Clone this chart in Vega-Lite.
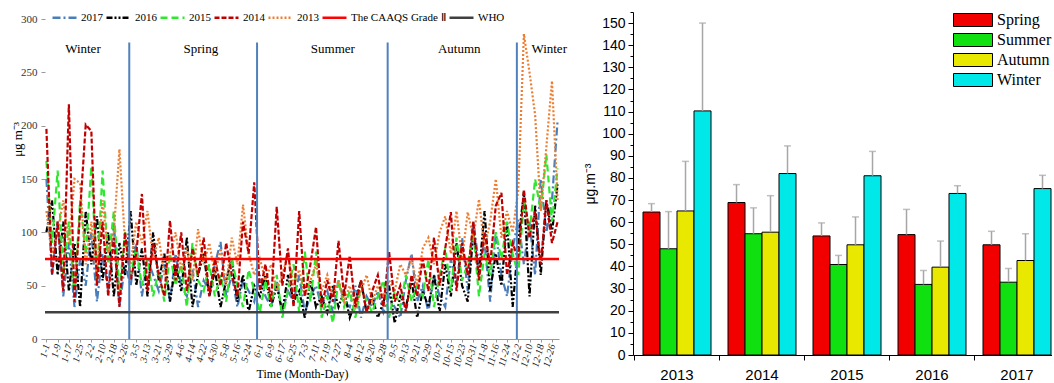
{
"$schema":"https://vega.github.io/schema/vega-lite/v6.json",
"background":"white",
"padding":{"left":11,"top":10,"right":0,"bottom":0},
"config":{"view":{"stroke":null},"axis":{"grid":false,"labelOverlap":false}},
"spacing":16,
"resolve":{"scale":{"stroke":"independent","strokeDash":"independent","fill":"independent"},"legend":{"stroke":"independent","strokeDash":"independent","fill":"independent"}},
"hconcat":[
{
"width":514,"height":327,
"layer":[
{"data":{"values":[
{"d":1,"s":"2017","v":150},{"d":5,"s":"2017","v":60},{"d":9,"s":"2017","v":110},{"d":13,"s":"2017","v":40},{"d":17,"s":"2017","v":90},{"d":21,"s":"2017","v":30},{"d":25,"s":"2017","v":75},{"d":29,"s":"2017","v":50},{"d":33,"s":"2017","v":100},{"d":37,"s":"2017","v":35},
{"d":41,"s":"2017","v":80},{"d":45,"s":"2017","v":45},{"d":49,"s":"2017","v":110},{"d":53,"s":"2017","v":30},{"d":57,"s":"2017","v":70},{"d":61,"s":"2017","v":50},{"d":65,"s":"2017","v":90},{"d":69,"s":"2017","v":40},{"d":73,"s":"2017","v":75},{"d":77,"s":"2017","v":60},
{"d":81,"s":"2017","v":45},{"d":85,"s":"2017","v":70},{"d":89,"s":"2017","v":35},{"d":93,"s":"2017","v":80},{"d":97,"s":"2017","v":50},{"d":101,"s":"2017","v":40},{"d":105,"s":"2017","v":65},{"d":109,"s":"2017","v":30},{"d":113,"s":"2017","v":55},{"d":117,"s":"2017","v":45},
{"d":121,"s":"2017","v":70},{"d":125,"s":"2017","v":91},{"d":129,"s":"2017","v":40},{"d":133,"s":"2017","v":60},{"d":137,"s":"2017","v":30},{"d":141,"s":"2017","v":55},{"d":145,"s":"2017","v":45},{"d":149,"s":"2017","v":35},{"d":153,"s":"2017","v":60},{"d":157,"s":"2017","v":40},
{"d":161,"s":"2017","v":30},{"d":165,"s":"2017","v":55},{"d":169,"s":"2017","v":25},{"d":173,"s":"2017","v":45},{"d":177,"s":"2017","v":35},{"d":181,"s":"2017","v":60},{"d":185,"s":"2017","v":25},{"d":189,"s":"2017","v":40},{"d":193,"s":"2017","v":50},{"d":197,"s":"2017","v":30},
{"d":201,"s":"2017","v":45},{"d":205,"s":"2017","v":25},{"d":209,"s":"2017","v":55},{"d":213,"s":"2017","v":35},{"d":217,"s":"2017","v":30},{"d":221,"s":"2017","v":50},{"d":225,"s":"2017","v":20},{"d":229,"s":"2017","v":40},{"d":233,"s":"2017","v":30},{"d":237,"s":"2017","v":45},
{"d":241,"s":"2017","v":25},{"d":245,"s":"2017","v":40},{"d":249,"s":"2017","v":30},{"d":253,"s":"2017","v":20},{"d":257,"s":"2017","v":55},{"d":261,"s":"2017","v":80},{"d":265,"s":"2017","v":35},{"d":269,"s":"2017","v":50},{"d":273,"s":"2017","v":25},{"d":277,"s":"2017","v":60},
{"d":281,"s":"2017","v":40},{"d":285,"s":"2017","v":30},{"d":289,"s":"2017","v":75},{"d":293,"s":"2017","v":50},{"d":297,"s":"2017","v":95},{"d":301,"s":"2017","v":45},{"d":305,"s":"2017","v":110},{"d":309,"s":"2017","v":70},{"d":313,"s":"2017","v":90},{"d":317,"s":"2017","v":35},
{"d":321,"s":"2017","v":100},{"d":325,"s":"2017","v":60},{"d":329,"s":"2017","v":40},{"d":333,"s":"2017","v":85},{"d":337,"s":"2017","v":112},{"d":341,"s":"2017","v":70},{"d":345,"s":"2017","v":110},{"d":349,"s":"2017","v":60},{"d":353,"s":"2017","v":150},{"d":357,"s":"2017","v":100},
{"d":361,"s":"2017","v":130},{"d":365,"s":"2017","v":205},
{"d":1,"s":"2016","v":100},{"d":5,"s":"2016","v":130},{"d":9,"s":"2016","v":60},{"d":13,"s":"2016","v":110},{"d":17,"s":"2016","v":45},{"d":21,"s":"2016","v":90},{"d":25,"s":"2016","v":30},{"d":29,"s":"2016","v":120},{"d":33,"s":"2016","v":70},{"d":37,"s":"2016","v":115},
{"d":41,"s":"2016","v":55},{"d":45,"s":"2016","v":100},{"d":49,"s":"2016","v":40},{"d":53,"s":"2016","v":90},{"d":57,"s":"2016","v":60},{"d":61,"s":"2016","v":120},{"d":65,"s":"2016","v":50},{"d":69,"s":"2016","v":85},{"d":73,"s":"2016","v":40},{"d":77,"s":"2016","v":100},
{"d":81,"s":"2016","v":55},{"d":85,"s":"2016","v":80},{"d":89,"s":"2016","v":35},{"d":93,"s":"2016","v":70},{"d":97,"s":"2016","v":45},{"d":101,"s":"2016","v":95},{"d":105,"s":"2016","v":30},{"d":109,"s":"2016","v":60},{"d":113,"s":"2016","v":80},{"d":117,"s":"2016","v":40},
{"d":121,"s":"2016","v":65},{"d":125,"s":"2016","v":30},{"d":129,"s":"2016","v":55},{"d":133,"s":"2016","v":75},{"d":137,"s":"2016","v":35},{"d":141,"s":"2016","v":60},{"d":145,"s":"2016","v":25},{"d":149,"s":"2016","v":50},{"d":153,"s":"2016","v":40},{"d":157,"s":"2016","v":60},
{"d":161,"s":"2016","v":30},{"d":165,"s":"2016","v":50},{"d":169,"s":"2016","v":25},{"d":173,"s":"2016","v":60},{"d":177,"s":"2016","v":35},{"d":181,"s":"2016","v":45},{"d":185,"s":"2016","v":20},{"d":189,"s":"2016","v":55},{"d":193,"s":"2016","v":30},{"d":197,"s":"2016","v":40},
{"d":201,"s":"2016","v":25},{"d":205,"s":"2016","v":50},{"d":209,"s":"2016","v":30},{"d":213,"s":"2016","v":45},{"d":217,"s":"2016","v":20},{"d":221,"s":"2016","v":35},{"d":225,"s":"2016","v":55},{"d":229,"s":"2016","v":25},{"d":233,"s":"2016","v":40},{"d":237,"s":"2016","v":20},
{"d":241,"s":"2016","v":35},{"d":245,"s":"2016","v":50},{"d":249,"s":"2016","v":15},{"d":253,"s":"2016","v":40},{"d":257,"s":"2016","v":30},{"d":261,"s":"2016","v":55},{"d":265,"s":"2016","v":20},{"d":269,"s":"2016","v":45},{"d":273,"s":"2016","v":30},{"d":277,"s":"2016","v":60},
{"d":281,"s":"2016","v":25},{"d":285,"s":"2016","v":70},{"d":289,"s":"2016","v":40},{"d":293,"s":"2016","v":90},{"d":297,"s":"2016","v":50},{"d":301,"s":"2016","v":35},{"d":305,"s":"2016","v":100},{"d":309,"s":"2016","v":60},{"d":313,"s":"2016","v":120},{"d":317,"s":"2016","v":45},
{"d":321,"s":"2016","v":80},{"d":325,"s":"2016","v":50},{"d":329,"s":"2016","v":110},{"d":333,"s":"2016","v":30},{"d":337,"s":"2016","v":90},{"d":341,"s":"2016","v":138},{"d":345,"s":"2016","v":40},{"d":349,"s":"2016","v":125},{"d":353,"s":"2016","v":60},{"d":357,"s":"2016","v":130},
{"d":361,"s":"2016","v":100},{"d":365,"s":"2016","v":145},
{"d":1,"s":"2015","v":167},{"d":5,"s":"2015","v":90},{"d":9,"s":"2015","v":158},{"d":13,"s":"2015","v":60},{"d":17,"s":"2015","v":110},{"d":21,"s":"2015","v":40},{"d":25,"s":"2015","v":130},{"d":29,"s":"2015","v":80},{"d":33,"s":"2015","v":162},{"d":37,"s":"2015","v":55},
{"d":41,"s":"2015","v":158},{"d":45,"s":"2015","v":70},{"d":49,"s":"2015","v":120},{"d":53,"s":"2015","v":45},{"d":57,"s":"2015","v":100},{"d":61,"s":"2015","v":60},{"d":65,"s":"2015","v":85},{"d":69,"s":"2015","v":50},{"d":73,"s":"2015","v":75},{"d":77,"s":"2015","v":40},
{"d":81,"s":"2015","v":65},{"d":85,"s":"2015","v":35},{"d":89,"s":"2015","v":80},{"d":93,"s":"2015","v":50},{"d":97,"s":"2015","v":70},{"d":101,"s":"2015","v":30},{"d":105,"s":"2015","v":90},{"d":109,"s":"2015","v":55},{"d":113,"s":"2015","v":45},{"d":117,"s":"2015","v":70},
{"d":121,"s":"2015","v":40},{"d":125,"s":"2015","v":60},{"d":129,"s":"2015","v":35},{"d":133,"s":"2015","v":75},{"d":137,"s":"2015","v":50},{"d":141,"s":"2015","v":30},{"d":145,"s":"2015","v":65},{"d":149,"s":"2015","v":45},{"d":153,"s":"2015","v":25},{"d":157,"s":"2015","v":55},
{"d":161,"s":"2015","v":30},{"d":165,"s":"2015","v":60},{"d":169,"s":"2015","v":20},{"d":173,"s":"2015","v":45},{"d":177,"s":"2015","v":70},{"d":181,"s":"2015","v":25},{"d":185,"s":"2015","v":82},{"d":189,"s":"2015","v":35},{"d":193,"s":"2015","v":82},{"d":197,"s":"2015","v":20},
{"d":201,"s":"2015","v":40},{"d":205,"s":"2015","v":15},{"d":209,"s":"2015","v":55},{"d":213,"s":"2015","v":30},{"d":217,"s":"2015","v":45},{"d":221,"s":"2015","v":20},{"d":225,"s":"2015","v":50},{"d":229,"s":"2015","v":35},{"d":233,"s":"2015","v":25},{"d":237,"s":"2015","v":40},
{"d":241,"s":"2015","v":55},{"d":245,"s":"2015","v":20},{"d":249,"s":"2015","v":45},{"d":253,"s":"2015","v":30},{"d":257,"s":"2015","v":60},{"d":261,"s":"2015","v":35},{"d":265,"s":"2015","v":50},{"d":269,"s":"2015","v":40},{"d":273,"s":"2015","v":75},{"d":277,"s":"2015","v":30},
{"d":281,"s":"2015","v":60},{"d":285,"s":"2015","v":85},{"d":289,"s":"2015","v":45},{"d":293,"s":"2015","v":95},{"d":297,"s":"2015","v":55},{"d":301,"s":"2015","v":70},{"d":305,"s":"2015","v":100},{"d":309,"s":"2015","v":40},{"d":313,"s":"2015","v":80},{"d":317,"s":"2015","v":60},
{"d":321,"s":"2015","v":100},{"d":325,"s":"2015","v":75},{"d":329,"s":"2015","v":110},{"d":333,"s":"2015","v":80},{"d":337,"s":"2015","v":60},{"d":341,"s":"2015","v":130},{"d":345,"s":"2015","v":100},{"d":349,"s":"2015","v":150},{"d":353,"s":"2015","v":120},{"d":357,"s":"2015","v":173},
{"d":361,"s":"2015","v":110},{"d":365,"s":"2015","v":160},
{"d":1,"s":"2013","v":120},{"d":5,"s":"2013","v":80},{"d":9,"s":"2013","v":100},{"d":13,"s":"2013","v":130},{"d":17,"s":"2013","v":90},{"d":21,"s":"2013","v":150},{"d":25,"s":"2013","v":146},{"d":29,"s":"2013","v":70},{"d":33,"s":"2013","v":110},{"d":37,"s":"2013","v":60},
{"d":41,"s":"2013","v":130},{"d":45,"s":"2013","v":80},{"d":49,"s":"2013","v":100},{"d":53,"s":"2013","v":178},{"d":57,"s":"2013","v":90},{"d":61,"s":"2013","v":70},{"d":65,"s":"2013","v":110},{"d":69,"s":"2013","v":90},{"d":73,"s":"2013","v":120},{"d":77,"s":"2013","v":75},
{"d":81,"s":"2013","v":95},{"d":85,"s":"2013","v":60},{"d":89,"s":"2013","v":80},{"d":93,"s":"2013","v":100},{"d":97,"s":"2013","v":65},{"d":101,"s":"2013","v":85},{"d":105,"s":"2013","v":55},{"d":109,"s":"2013","v":103},{"d":113,"s":"2013","v":70},{"d":117,"s":"2013","v":90},
{"d":121,"s":"2013","v":60},{"d":125,"s":"2013","v":85},{"d":129,"s":"2013","v":50},{"d":133,"s":"2013","v":95},{"d":137,"s":"2013","v":70},{"d":141,"s":"2013","v":126},{"d":145,"s":"2013","v":80},{"d":149,"s":"2013","v":60},{"d":153,"s":"2013","v":75},{"d":157,"s":"2013","v":55},
{"d":161,"s":"2013","v":70},{"d":165,"s":"2013","v":45},{"d":169,"s":"2013","v":60},{"d":173,"s":"2013","v":80},{"d":177,"s":"2013","v":50},{"d":181,"s":"2013","v":65},{"d":185,"s":"2013","v":40},{"d":189,"s":"2013","v":55},{"d":193,"s":"2013","v":70},{"d":197,"s":"2013","v":45},
{"d":201,"s":"2013","v":60},{"d":205,"s":"2013","v":40},{"d":209,"s":"2013","v":55},{"d":213,"s":"2013","v":35},{"d":217,"s":"2013","v":50},{"d":221,"s":"2013","v":30},{"d":225,"s":"2013","v":45},{"d":229,"s":"2013","v":60},{"d":233,"s":"2013","v":35},{"d":237,"s":"2013","v":50},
{"d":241,"s":"2013","v":40},{"d":245,"s":"2013","v":55},{"d":249,"s":"2013","v":45},{"d":253,"s":"2013","v":70},{"d":257,"s":"2013","v":60},{"d":261,"s":"2013","v":75},{"d":265,"s":"2013","v":50},{"d":269,"s":"2013","v":85},{"d":273,"s":"2013","v":95},{"d":277,"s":"2013","v":70},
{"d":281,"s":"2013","v":100},{"d":285,"s":"2013","v":115},{"d":289,"s":"2013","v":80},{"d":293,"s":"2013","v":120},{"d":297,"s":"2013","v":75},{"d":301,"s":"2013","v":119},{"d":305,"s":"2013","v":95},{"d":309,"s":"2013","v":131},{"d":313,"s":"2013","v":85},{"d":317,"s":"2013","v":110},
{"d":321,"s":"2013","v":150},{"d":325,"s":"2013","v":95},{"d":329,"s":"2013","v":120},{"d":333,"s":"2013","v":100},{"d":337,"s":"2013","v":140},{"d":341,"s":"2013","v":286},{"d":345,"s":"2013","v":250},{"d":349,"s":"2013","v":210},{"d":353,"s":"2013","v":120},{"d":357,"s":"2013","v":180},
{"d":361,"s":"2013","v":242},{"d":365,"s":"2013","v":130},
{"d":1,"s":"2014","v":197},{"d":5,"s":"2014","v":60},{"d":9,"s":"2014","v":110},{"d":13,"s":"2014","v":45},{"d":17,"s":"2014","v":220},{"d":21,"s":"2014","v":35},{"d":25,"s":"2014","v":120},{"d":29,"s":"2014","v":201},{"d":33,"s":"2014","v":195},{"d":37,"s":"2014","v":50},
{"d":41,"s":"2014","v":110},{"d":45,"s":"2014","v":40},{"d":49,"s":"2014","v":95},{"d":53,"s":"2014","v":30},{"d":57,"s":"2014","v":100},{"d":61,"s":"2014","v":55},{"d":65,"s":"2014","v":80},{"d":69,"s":"2014","v":136},{"d":73,"s":"2014","v":45},{"d":77,"s":"2014","v":90},
{"d":81,"s":"2014","v":60},{"d":85,"s":"2014","v":40},{"d":89,"s":"2014","v":111},{"d":93,"s":"2014","v":55},{"d":97,"s":"2014","v":100},{"d":101,"s":"2014","v":45},{"d":105,"s":"2014","v":85},{"d":109,"s":"2014","v":60},{"d":113,"s":"2014","v":95},{"d":117,"s":"2014","v":40},
{"d":121,"s":"2014","v":75},{"d":125,"s":"2014","v":50},{"d":129,"s":"2014","v":90},{"d":133,"s":"2014","v":60},{"d":137,"s":"2014","v":40},{"d":141,"s":"2014","v":110},{"d":145,"s":"2014","v":80},{"d":149,"s":"2014","v":147},{"d":153,"s":"2014","v":45},{"d":157,"s":"2014","v":70},
{"d":161,"s":"2014","v":35},{"d":165,"s":"2014","v":124},{"d":169,"s":"2014","v":50},{"d":173,"s":"2014","v":85},{"d":177,"s":"2014","v":30},{"d":181,"s":"2014","v":120},{"d":185,"s":"2014","v":40},{"d":189,"s":"2014","v":70},{"d":193,"s":"2014","v":105},{"d":197,"s":"2014","v":30},
{"d":201,"s":"2014","v":55},{"d":205,"s":"2014","v":35},{"d":209,"s":"2014","v":92},{"d":213,"s":"2014","v":40},{"d":217,"s":"2014","v":78},{"d":221,"s":"2014","v":30},{"d":225,"s":"2014","v":55},{"d":229,"s":"2014","v":25},{"d":233,"s":"2014","v":45},{"d":237,"s":"2014","v":60},
{"d":241,"s":"2014","v":30},{"d":245,"s":"2014","v":82},{"d":249,"s":"2014","v":35},{"d":253,"s":"2014","v":50},{"d":257,"s":"2014","v":25},{"d":261,"s":"2014","v":60},{"d":265,"s":"2014","v":40},{"d":269,"s":"2014","v":75},{"d":273,"s":"2014","v":45},{"d":277,"s":"2014","v":95},
{"d":281,"s":"2014","v":50},{"d":285,"s":"2014","v":85},{"d":289,"s":"2014","v":119},{"d":293,"s":"2014","v":45},{"d":297,"s":"2014","v":90},{"d":301,"s":"2014","v":60},{"d":305,"s":"2014","v":110},{"d":309,"s":"2014","v":55},{"d":313,"s":"2014","v":100},{"d":317,"s":"2014","v":70},
{"d":321,"s":"2014","v":125},{"d":325,"s":"2014","v":137},{"d":329,"s":"2014","v":60},{"d":333,"s":"2014","v":90},{"d":337,"s":"2014","v":75},{"d":341,"s":"2014","v":140},{"d":345,"s":"2014","v":95},{"d":349,"s":"2014","v":120},{"d":353,"s":"2014","v":70},{"d":357,"s":"2014","v":130},
{"d":361,"s":"2014","v":90},{"d":365,"s":"2014","v":110}
]},
"mark":{"type":"line","strokeWidth":2.2,"strokeCap":"butt"},
"encoding":{
"x":{"field":"d","type":"quantitative","scale":{"domain":[0,366],"nice":false,"zero":false},
"axis":{"values":[1,9,17,25,33,41,49,57,65,73,81,89,97,105,113,121,129,137,145,153,161,169,177,185,193,201,209,217,225,233,241,249,257,265,273,281,289,297,305,313,321,329,337,345,353,361],"tickCount":200,
"labelExpr":"timeFormat(datetime(2016,0,datum.value),'%-m-%-d')","labelAngle":-75,"labelOverlap":false,
"labelFont":"Liberation Serif","labelFontSize":10,"labelFontStyle":"italic","labelColor":"#222",
"tickSize":3,"tickColor":"#999","domainColor":"#999","labelPadding":2,
"title":"Time (Month-Day)","titleFont":"Liberation Serif","titleFontSize":12,"titleFontWeight":"normal","titleColor":"#000","titlePadding":1}},
"y":{"field":"v","type":"quantitative","title":"μg m⁻³","scale":{"domain":[0,306.6],"nice":false},
"axis":{"values":[0,50,100,150,200,250,300],"tickCount":50,"domain":false,"labelFont":"Liberation Serif","labelFontSize":11,"labelColor":"#333",
"tickSize":4,"tickColor":"#999","labelPadding":4,
"titleFont":"Liberation Serif","titleFontSize":13,"titleFontWeight":"normal","titleColor":"#000","titlePadding":-4,"titleY":127}},
"stroke":{"field":"s","type":"nominal","scale":{"domain":["2017","2016","2015","2014","2013","The CAAQS Grade Ⅱ","WHO"],"range":["#4a7ebb","#000000","#2ee82e","#c00000","#ed7d31","#ff0000","#404040"]},
"legend":{"orient":"none","legendX":12,"legendY":-2,"direction":"horizontal","title":null,"labelFont":"Liberation Serif","labelFontSize":11,"labelColor":"#000","symbolType":"M-2,0H2","symbolSize":144,"symbolStrokeWidth":2.5,"labelOffset":9,"columnPadding":-2,"padding":0}},
"strokeDash":{"field":"s","type":"nominal","scale":{"domain":["2017","2016","2015","2014","2013","The CAAQS Grade Ⅱ","WHO"],"range":[[8,3,2,3],[6,2,2,2,2,2],[7,4],[5,2],[2,2],[1,0],[1,0]]},
"legend":{"orient":"none","legendX":12,"legendY":-2,"direction":"horizontal","title":null,"labelFont":"Liberation Serif","labelFontSize":11,"labelColor":"#000","symbolType":"M-2,0H2","symbolSize":144,"symbolStrokeWidth":2.5,"labelOffset":9,"columnPadding":-2,"padding":0}}
}},
{"mark":{"type":"rule","color":"#999","strokeWidth":1},
"encoding":{"x":{"datum":0,"type":"quantitative"},"y":{"datum":0,"type":"quantitative"},"y2":{"datum":300}}},
{"data":{"values":[{"d":60},{"d":151},{"d":244},{"d":336}]},
"mark":{"type":"rule","color":"#4f81bd","strokeWidth":2},
"encoding":{"x":{"field":"d","type":"quantitative"},"y":{"datum":0,"type":"quantitative"},"y2":{"datum":278}}},
{"data":{"values":[{"season":"Winter","d":27},{"season":"Spring","d":111},{"season":"Summer","d":205},{"season":"Autumn","d":295},{"season":"Winter","d":359}]},
"mark":{"type":"text","font":"Liberation Serif","fontSize":13,"color":"#000"},
"encoding":{"x":{"field":"d","type":"quantitative"},"y":{"datum":272,"type":"quantitative"},"text":{"field":"season"}}},
{"data":{"values":[{"s":"The CAAQS Grade Ⅱ","v":75},{"s":"WHO","v":25}]},
"mark":{"type":"rule","strokeWidth":2.5},
"encoding":{"y":{"field":"v","type":"quantitative","title":"μg m⁻³"},"stroke":{"field":"s","type":"nominal"},"strokeDash":{"field":"s","type":"nominal"}}}
]
},
{
"width":419,"height":343,
"data":{"values":[
{"year":"2013","season":"Spring","v":64.6,"hi":68.4},
{"year":"2013","season":"Summer","v":48,"hi":64.8},
{"year":"2013","season":"Autumn","v":65.1,"hi":87.5},
{"year":"2013","season":"Winter","v":110.3,"hi":150},
{"year":"2014","season":"Spring","v":68.9,"hi":77},
{"year":"2014","season":"Summer","v":54.8,"hi":66.5},
{"year":"2014","season":"Autumn","v":55.5,"hi":72},
{"year":"2014","season":"Winter","v":82,"hi":94.5},
{"year":"2015","season":"Spring","v":53.8,"hi":59.7},
{"year":"2015","season":"Summer","v":40.9,"hi":45},
{"year":"2015","season":"Autumn","v":49.8,"hi":62.4},
{"year":"2015","season":"Winter","v":81,"hi":92},
{"year":"2016","season":"Spring","v":54.4,"hi":65.8},
{"year":"2016","season":"Summer","v":31.9,"hi":38.2},
{"year":"2016","season":"Autumn","v":39.7,"hi":51.5},
{"year":"2016","season":"Winter","v":73,"hi":76.5},
{"year":"2017","season":"Spring","v":49.8,"hi":55.9},
{"year":"2017","season":"Summer","v":32.9,"hi":39.1},
{"year":"2017","season":"Autumn","v":42.7,"hi":54.8},
{"year":"2017","season":"Winter","v":75.2,"hi":81.2}
]},
"resolve":{"axis":{"x":"independent","y":"independent"}},
"layer":[
{"mark":{"type":"bar","stroke":"#000","strokeWidth":1},
"encoding":{
"x":{"field":"year","type":"nominal","scale":{"paddingInner":0.2,"paddingOuter":0.0647,"align":0.91},
"axis":{"title":null,"labelAngle":0,"labelFont":"Liberation Sans","labelFontSize":15,"labelColor":"#000","domainColor":"#000","ticks":false,"tickSize":0,"labelPadding":12}},
"xOffset":{"field":"season","type":"nominal","scale":{"domain":["Spring","Summer","Autumn","Winter"],"paddingInner":0,"paddingOuter":0}},
"y":{"field":"v","type":"quantitative","title":"μg.m⁻³","scale":{"domain":[0,155],"nice":false},
"axis":{"values":[0,10,20,30,40,50,60,70,80,90,100,110,120,130,140,150],"tickCount":50,"labelOverlap":false,"labelFont":"Liberation Sans","labelFontSize":14,"labelColor":"#000","tickColor":"#000","domainColor":"#000","tickSize":5,"labelPadding":3,
"titleFont":"Liberation Sans","titleFontSize":14,"titleFontWeight":"normal","titleColor":"#000","titlePadding":4}},
"fill":{"field":"season","type":"nominal","scale":{"domain":["Spring","Summer","Autumn","Winter"],"range":["#f20000","#10e010","#e8e800","#00e8e8"]},
"legend":{"orient":"none","legendX":332,"legendY":0,"title":null,"symbolType":"M-3,-1H3V1H-3Z","symbolSize":169,"symbolStrokeColor":"#000","symbolStrokeWidth":1,"symbolOpacity":1,"labelFont":"Liberation Serif","labelFontSize":16,"labelColor":"#000","labelOffset":16,"rowPadding":2,"padding":0}}
}},
{"mark":{"type":"rule","color":"#a6a6a6","strokeWidth":1.5},
"encoding":{
"x":{"field":"year","type":"nominal","axis":null},
"xOffset":{"field":"season","type":"nominal"},
"y":{"field":"v","type":"quantitative","axis":null},"y2":{"field":"hi"}}},
{"mark":{"type":"tick","orient":"horizontal","size":7,"thickness":1.5,"color":"#a6a6a6"},
"encoding":{
"x":{"field":"year","type":"nominal","axis":{"orient":"bottom","title":null,"labels":false,"domain":false,"ticks":true,"tickSize":5,"tickColor":"#000","bandPosition":-0.125}},
"xOffset":{"field":"season","type":"nominal"},
"y":{"field":"hi","type":"quantitative","axis":{"orient":"left","title":null,"labels":false,"domain":false,"ticks":true,"tickSize":3,"tickColor":"#000","values":[5,15,25,35,45,55,65,75,85,95,105,115,125,135,145,155],"tickCount":50}}}}
]
}
]
}
